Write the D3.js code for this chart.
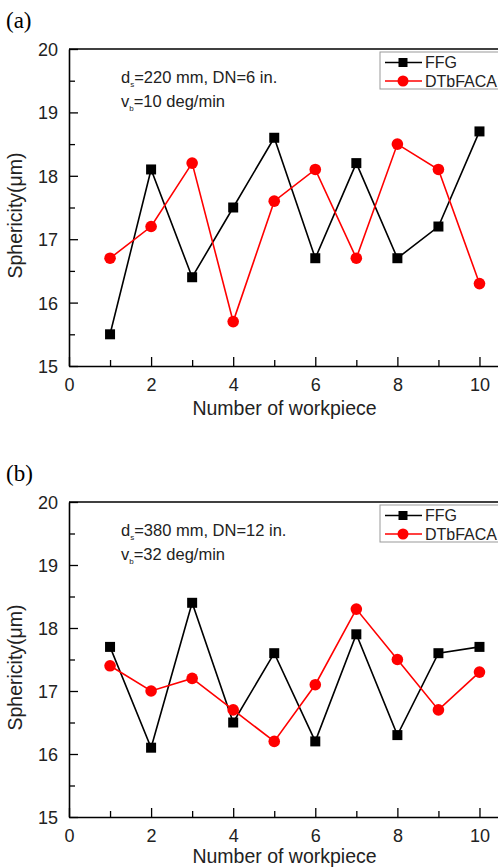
<!DOCTYPE html>
<html>
<head>
<meta charset="utf-8">
<script src="https://cdn.jsdelivr.net/npm/d3@7"></script>
<style>
  body { margin: 0; background: #fff; }
  svg { display: block; font-family: "Liberation Sans", Arial, sans-serif; }
</style>
</head>
<body>
<div id="chart"></div>
<script>
// values
const workpiece = [1, 2, 3, 4, 5, 6, 7, 8, 9, 10];
const ffgA = [15.5, 18.1, 16.4, 17.5, 18.6, 16.7, 18.2, 16.7, 17.2, 18.7];
const dtbA = [16.7, 17.2, 18.2, 15.7, 17.6, 18.1, 16.7, 18.5, 18.1, 16.3];
const ffgB = [17.7, 16.1, 18.4, 16.5, 17.6, 16.2, 17.9, 16.3, 17.6, 17.7];
const dtbB = [17.4, 17.0, 17.2, 16.7, 16.2, 17.1, 18.3, 17.5, 16.7, 17.3];
const seriesNames = ["FFG", "DTbFACA"];
const seriesColors = ["#000000", "#ff0000"];
const yMajor = [15, 16, 17, 18, 19, 20];
const yMinor = [15.5, 16.5, 17.5, 18.5, 19.5];
const xMajor = [0, 2, 4, 6, 8, 10];
const xMinor = [1, 3, 5, 7, 9];

const W = 498, H = 868;
const svg = d3.select("#chart").append("svg")
  .attr("width", W).attr("height", H);

function drawPanel(opt) {
  const left = 69, right = 500;
  const x = d3.scaleLinear().domain([0, 10.5]).range([left, right]);
  const y = d3.scaleLinear().domain([15, 20]).range([opt.bottom, opt.top]);
  const g = svg.append("g");

  // panel letter
  g.append("text")
    .attr("x", 6).attr("y", opt.top - 21)
    .style("font-family", "'Liberation Serif', 'Times New Roman', serif")
    .style("font-size", "23px")
    .text(opt.letter);

  // top frame line
  g.append("line")
    .attr("x1", left).attr("x2", right)
    .attr("y1", opt.top).attr("y2", opt.top)
    .attr("stroke", "#000").attr("stroke-width", 1.6);

  // left axis, ticks pointing in
  const ya = g.append("g").attr("transform", "translate(" + left + ",0)")
    .call(d3.axisLeft(y).tickValues(yMajor).tickSize(-9).tickSizeOuter(0)
      .tickPadding(11).tickFormat(d3.format("d")));
  g.append("g").attr("transform", "translate(" + left + ",0)")
    .call(d3.axisLeft(y).tickValues(yMinor).tickSize(-6).tickSizeOuter(0).tickFormat(""))
    .select(".domain").remove();

  // bottom axis
  g.append("g").attr("transform", "translate(0," + opt.bottom + ")")
    .call(d3.axisBottom(x).tickValues(xMajor).tickSize(-9).tickSizeOuter(0)
      .tickPadding(12).tickFormat(d3.format("d")));
  g.append("g").attr("transform", "translate(0," + opt.bottom + ")")
    .call(d3.axisBottom(x).tickValues(xMinor).tickSize(-6).tickSizeOuter(0).tickFormat(""))
    .select(".domain").remove();

  g.selectAll(".domain").attr("stroke-width", 1.6);
  g.selectAll(".tick line").attr("stroke-width", 1.3);
  g.selectAll(".tick text").style("font-size", "18px").attr("fill", "#222");
  ya.selectAll(".tick text").attr("dy", "0.36em");

  // axis titles
  g.append("text")
    .attr("x", (left + right) / 2).attr("y", opt.bottom + opt.titleGap)
    .attr("text-anchor", "middle")
    .style("font-size", "19.5px").attr("fill", "#222")
    .text("Number of workpiece");
  g.append("text")
    .attr("transform", "translate(22," + ((opt.top + opt.bottom) / 2 + 8) + ") rotate(-90)")
    .attr("text-anchor", "middle")
    .style("font-size", "19.5px").attr("fill", "#222")
    .text("Sphericity(\u03bcm)");

  // condition notes
  const n1 = g.append("text").attr("x", 121).attr("y", opt.top + 34)
    .style("font-size", "16.5px").attr("fill", "#222");
  n1.append("tspan").text("d");
  n1.append("tspan").attr("dy", 4).style("font-size", "8px").text("s");
  n1.append("tspan").attr("dy", -4).text(opt.note1);
  const n2 = g.append("text").attr("x", 121).attr("y", opt.top + 58)
    .style("font-size", "16.5px").attr("fill", "#222");
  n2.append("tspan").text("v");
  n2.append("tspan").attr("dy", 4).style("font-size", "8px").text("b");
  n2.append("tspan").attr("dy", -4).text(opt.note2);

  // series
  const line = d3.line().x((d, i) => x(workpiece[i])).y(d => y(d));
  opt.series.forEach((vals, s) => {
    g.append("path").attr("d", line(vals))
      .attr("fill", "none").attr("stroke", seriesColors[s]).attr("stroke-width", 1.6);
    if (s === 0) {
      g.selectAll(".sq").data(vals).enter().append("rect")
        .attr("x", (d, i) => x(workpiece[i]) - 5)
        .attr("y", d => y(d) - 5)
        .attr("width", 10).attr("height", 10)
        .attr("fill", seriesColors[s]);
    } else {
      g.selectAll(".ci").data(vals).enter().append("circle")
        .attr("cx", (d, i) => x(workpiece[i]))
        .attr("cy", d => y(d))
        .attr("r", 5.8)
        .attr("fill", seriesColors[s]);
    }
  });

  // legend
  const lg = g.append("g").attr("transform", "translate(380," + (opt.top + 3) + ")");
  lg.append("rect").attr("x", 0).attr("y", 0).attr("width", 130).attr("height", 37)
    .attr("fill", "#fff").attr("stroke", "#999").attr("stroke-width", 1);
  seriesNames.forEach((name, s) => {
    const cy = 10.5 + s * 18.5;
    lg.append("line").attr("x1", 5).attr("x2", 42).attr("y1", cy).attr("y2", cy)
      .attr("stroke", seriesColors[s]).attr("stroke-width", 1.6);
    if (s === 0) {
      lg.append("rect").attr("x", 18.5).attr("y", cy - 4.5).attr("width", 9).attr("height", 9)
        .attr("fill", seriesColors[s]);
    } else {
      lg.append("circle").attr("cx", 23).attr("cy", cy).attr("r", 5.5)
        .attr("fill", seriesColors[s]);
    }
    lg.append("text").attr("x", 45).attr("y", cy).attr("dy", "0.36em")
      .style("font-size", "16px").attr("fill", "#222").text(name);
  });
}

drawPanel({
  letter: "(a)", top: 49, bottom: 366, titleGap: 49,
  note1: "=220 mm, DN=6 in.", note2: "=10 deg/min",
  series: [ffgA, dtbA]
});
drawPanel({
  letter: "(b)", top: 502, bottom: 817, titleGap: 46,
  note1: "=380 mm, DN=12 in.", note2: "=32 deg/min",
  series: [ffgB, dtbB]
});
</script>
</body>
</html>
